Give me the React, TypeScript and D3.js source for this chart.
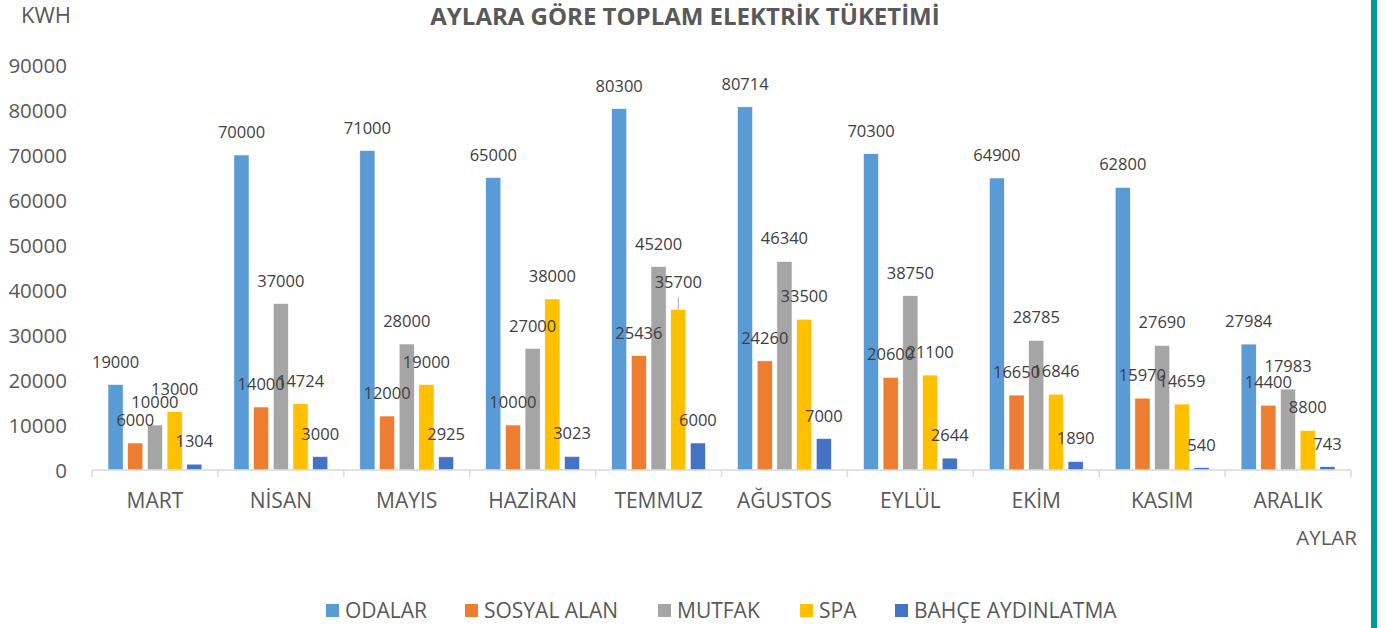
import React from "react";
import * as d3 from "d3";

const months = ["MART", "NİSAN", "MAYIS", "HAZİRAN", "TEMMUZ", "AĞUSTOS", "EYLÜL", "EKİM", "KASIM", "ARALIK"];
const seriesNames = ["ODALAR", "SOSYAL ALAN", "MUTFAK", "SPA", "BAHÇE AYDINLATMA"];
const seriesColors = ["#5b9bd5", "#ed7d31", "#a5a5a5", "#ffc000", "#4472c4"];
const odalar = [19000, 70000, 71000, 65000, 80300, 80714, 70300, 64900, 62800, 27984];
const sosyalAlan = [6000, 14000, 12000, 10000, 25436, 24260, 20600, 16650, 15970, 14400];
const mutfak = [10000, 37000, 28000, 27000, 45200, 46340, 38750, 28785, 27690, 17983];
const spa = [13000, 14724, 19000, 38000, 35700, 33500, 21100, 16846, 14659, 8800];
const bahce = [1304, 3000, 2925, 3023, 6000, 7000, 2644, 1890, 540, 743];
const seriesValues = [odalar, sosyalAlan, mutfak, spa, bahce];
const yTicks = [0, 10000, 20000, 30000, 40000, 50000, 60000, 70000, 80000, 90000];

const W = 1387;
const H = 628;
const FONT = "'Open Sans', 'DejaVu Sans', sans-serif";
const TXT = "#595959";
const LBL = "#404040";

export default function App() {
  const y = d3.scaleLinear().domain([0, 90000]).range([470, 65]);
  const x0 = d3.scaleBand<string>().domain(months).range([92, 1351]).paddingInner(0.254).paddingOuter(0.127);
  const x1 = d3.scaleBand<string>().domain(seriesNames).range([0, x0.bandwidth()]).paddingInner(0.23);
  const step = x0.step();
  const boundaries = d3.range(months.length + 1).map((i) => 92 + i * step);

  const legendX = [326, 465, 658, 800, 895];

  return (
    <svg width={W} height={H} style={{ position: "absolute", left: 0, top: 0, background: "#fff" }} fontFamily={FONT}>
      <rect x={0} y={0} width={W} height={H} fill="#fff" />
      <text x={21} y={23} fontSize={22} fill={TXT}>KWH</text>
      <text x={685} y={25} fontSize={24} fontWeight="bold" fill={TXT} textAnchor="middle">
        AYLARA GÖRE TOPLAM ELEKTRİK TÜKETİMİ
      </text>
      {yTicks.map((t) => (
        <text key={t} x={67} y={y(t) + 8} fontSize={20.5} fill={TXT} textAnchor="end">{t}</text>
      ))}
      {months.map((m, i) => (
        <g key={m} transform={`translate(${x0(m)},0)`}>
          {seriesNames.map((s, j) => {
            const v = seriesValues[j][i];
            return (
              <rect key={s} x={x1(s)} y={y(v)} width={x1.bandwidth()} height={470 - y(v)}
                fill={seriesColors[j]} stroke="#fff" strokeWidth={0.6} />
            );
          })}
        </g>
      ))}
      <line x1={92} x2={1351} y1={470} y2={470} stroke="#d9d9d9" strokeWidth={1.5} />
      {boundaries.map((bx, i) => (
        <line key={i} x1={bx} x2={bx} y1={470} y2={477} stroke="#d9d9d9" strokeWidth={1.5} />
      ))}
      {months.map((m, i) => (
        <g key={m + "l"} transform={`translate(${x0(m)},0)`}>
          {seriesNames.map((s, j) => {
            const v = seriesValues[j][i];
            const cx = (x1(s) as number) + x1.bandwidth() / 2;
            const moved = m === "TEMMUZ" && s === "SPA";
            return (
              <g key={s}>
                {moved && <line x1={cx} x2={cx} y1={y(v) - 12} y2={y(v)} stroke="#a6a6a6" strokeWidth={1} />}
                <text x={cx} y={y(v) - (moved ? 21 : 17)} fontSize={16.5} fill={LBL} textAnchor="middle">{v}</text>
              </g>
            );
          })}
        </g>
      ))}
      {months.map((m) => (
        <text key={m + "c"} x={(x0(m) as number) + x0.bandwidth() / 2} y={508} fontSize={21} fill={TXT} textAnchor="middle">{m}</text>
      ))}
      <text x={1357} y={545} fontSize={20.5} fill={TXT} textAnchor="end">AYLAR</text>
      {seriesNames.map((s, j) => (
        <g key={s + "lg"}>
          <rect x={legendX[j]} y={604} width={13} height={13} fill={seriesColors[j]} />
          <text x={legendX[j] + 19} y={618} fontSize={21} fill={TXT}>{s}</text>
        </g>
      ))}
      <rect x={1371} y={0} width={6} height={H} fill="#009a94" />
    </svg>
  );
}
